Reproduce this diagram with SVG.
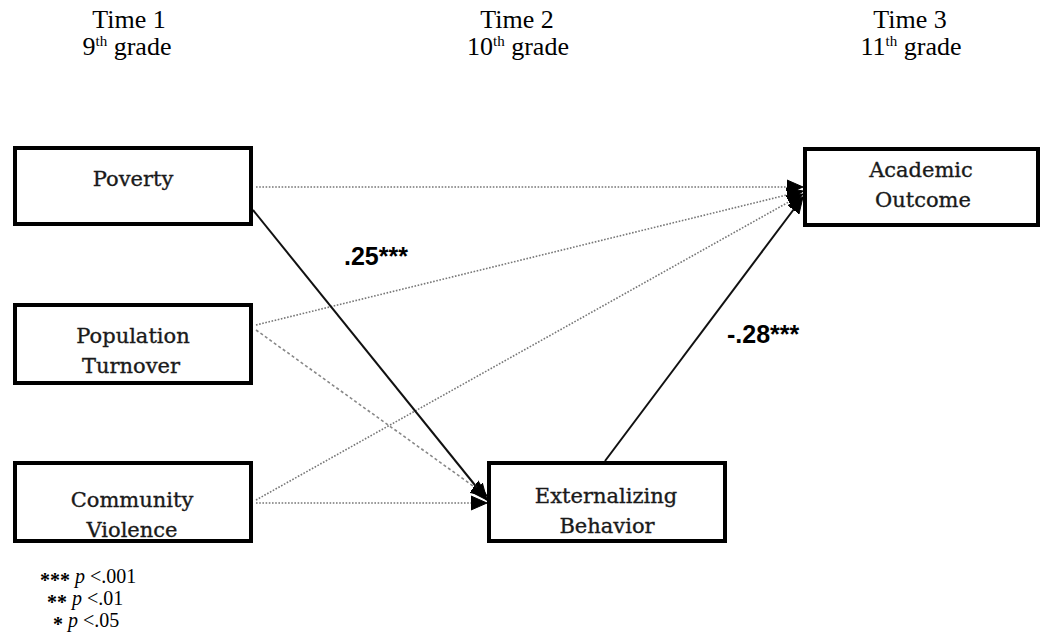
<svg xmlns="http://www.w3.org/2000/svg" width="1042" height="639" viewBox="0 0 1042 639">
<style>
.box{fill:#fff;stroke:#000;stroke-width:4}
.nt{font-family:"DejaVu Serif","Liberation Serif",serif;font-size:21px;fill:#1a1a1a;stroke:#1a1a1a;stroke-width:0.35;text-anchor:middle}
.hd{font-family:"Liberation Serif","Times New Roman",serif;font-size:26px;fill:#000;text-anchor:middle}
.sup{font-size:15px}
.coef{font-family:"Liberation Sans",Arial,sans-serif;font-size:25px;font-weight:bold;fill:#000}
.lg{font-family:"Liberation Serif","Times New Roman",serif;font-size:20px;fill:#000}
.solid{stroke:#111;stroke-width:2;fill:none}
.dot{stroke:#777;stroke-width:1.6;stroke-dasharray:1.6 1.6;fill:none}
.dash{stroke:#888;stroke-width:1.6;stroke-dasharray:3 2.5;fill:none}
</style>
<defs>
<marker id="ah" markerUnits="userSpaceOnUse" markerWidth="18" markerHeight="16" refX="16" refY="8" orient="auto">
<path d="M0,1 L16,8 L0,15 z" fill="#000" stroke="#000" stroke-width="1" stroke-linejoin="round"/>
</marker>
</defs>
<rect width="1042" height="639" fill="#fff"/>

<g id="headers">
<text class="hd" x="129" y="28">Time 1</text>
<text class="hd" x="127" y="55">9<tspan class="sup" dy="-9">th</tspan><tspan dy="9"> grade</tspan></text>
<text class="hd" x="517" y="28">Time 2</text>
<text class="hd" x="518" y="55">10<tspan class="sup" dy="-9">th</tspan><tspan dy="9"> grade</tspan></text>
<text class="hd" x="910" y="28">Time 3</text>
<text class="hd" x="911" y="55">11<tspan class="sup" dy="-9">th</tspan><tspan dy="9"> grade</tspan></text>
</g>

<g id="connectors">
<line class="dot" x1="256" y1="187" x2="803" y2="187" marker-end="url(#ah)"/>
<line class="dot" x1="256" y1="325" x2="803" y2="191" marker-end="url(#ah)"/>
<line class="dot" x1="256" y1="500" x2="803" y2="194" marker-end="url(#ah)"/>
<line class="dash" x1="256" y1="330" x2="487" y2="496" marker-end="url(#ah)"/>
<line class="dot" x1="256" y1="503" x2="487" y2="503" marker-end="url(#ah)"/>
<line class="solid" x1="253" y1="210" x2="487" y2="500" marker-end="url(#ah)"/>
<line class="solid" x1="605" y1="461" x2="803" y2="197" marker-end="url(#ah)"/>
</g>

<g id="poverty">
<rect class="box" x="15" y="148" width="236" height="76"/>
<text class="nt" x="133" y="186">Poverty</text>
</g>
<g id="population-turnover">
<rect class="box" x="15" y="305" width="236" height="78"/>
<text class="nt" x="133" y="343">Population</text>
<text class="nt" x="131" y="373">Turnover</text>
</g>
<g id="community-violence">
<rect class="box" x="15" y="463" width="236" height="78"/>
<text class="nt" x="132" y="507">Community</text>
<text class="nt" x="132" y="537">Violence</text>
</g>
<g id="externalizing-behavior">
<rect class="box" x="489" y="463" width="236" height="78"/>
<text class="nt" x="606" y="503">Externalizing</text>
<text class="nt" x="607" y="533">Behavior</text>
</g>
<g id="academic-outcome">
<rect class="box" x="805" y="149" width="233" height="76"/>
<text class="nt" x="921" y="177">Academic</text>
<text class="nt" x="923" y="207">Outcome</text>
</g>

<g id="labels">
<text class="coef" x="344" y="265">.25***</text>
<text class="coef" x="727" y="343">-.28***</text>
</g>

<g id="legend">
<text class="lg" x="40" y="583"><tspan font-weight="bold" dy="4">***</tspan><tspan dy="-4"> </tspan><tspan font-style="italic">p</tspan> &lt;.001</text>
<text class="lg" x="47" y="605"><tspan font-weight="bold" dy="4">**</tspan><tspan dy="-4"> </tspan><tspan font-style="italic">p</tspan> &lt;.01</text>
<text class="lg" x="53" y="627"><tspan font-weight="bold" dy="4">*</tspan><tspan dy="-4"> </tspan><tspan font-style="italic">p</tspan> &lt;.05</text>
</g>
</svg>
